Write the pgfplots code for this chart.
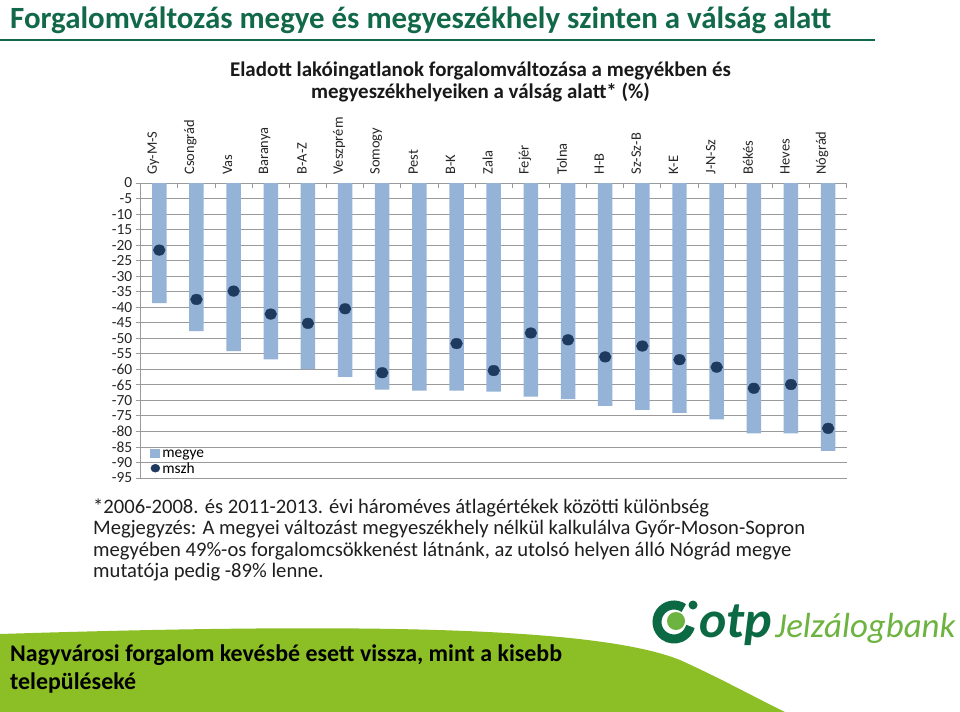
\documentclass[border=0pt]{standalone}
\usepackage{pgfplots}
\pgfplotsset{compat=1.18}
\usepackage{fontspec}
\setmainfont{Carlito}
\definecolor{ttlgreen}{HTML}{11694A}
\definecolor{barblue}{HTML}{95B3D7}
\definecolor{dotnavy}{HTML}{1F3A5F}
\definecolor{gridgrey}{HTML}{9A9A9A}
\definecolor{leafgreen}{HTML}{8CBE25}
\definecolor{otpdark}{HTML}{0B6A43}
\definecolor{otplight}{HTML}{6DB33F}
\begin{document}
\begin{tikzpicture}[x=1bp,y=1bp]
\useasboundingbox (0,0) rectangle (960,-712);
\fill[white] (0,0) rectangle (960,-712);
\coordinate (axSW) at (140.7,-478);
% slide title
\node[anchor=base west, inner sep=0, text=ttlgreen, font=\fontsize{31}{35}\selectfont\bfseries] at (10,-29) {Forgalomváltozás megye és megyeszékhely szinten a válság alatt};
\draw[ttlgreen, line width=2bp] (0,-40) -- (875,-40);
% chart title
\node[anchor=base, inner sep=0, font=\fontsize{21}{24}\selectfont\bfseries, text=black!90] at (480.5,-77) {Eladott lakóingatlanok forgalomváltozása a megyékben és};
\node[anchor=base, inner sep=0, font=\fontsize{21}{24}\selectfont\bfseries, text=black!90] at (480.5,-99) {megyeszékhelyeiken a válság alatt* (\%)};
\begin{axis}[
  at={(axSW)}, anchor=south west,
  width=706bp, height=295bp, scale only axis,
  xmin=-0.5, xmax=18.5, ymin=-95, ymax=0,
  axis x line*=top, axis y line*=left,
  axis line style={gridgrey, line width=0.9bp, -},
  xtick={0,...,18},
  xticklabels={Gy-M-S,Csongrád,Vas,Baranya,B-A-Z,Veszprém,Somogy,Pest,B-K,Zala,Fejér,Tolna,H-B,Sz-Sz-B,K-E,J-N-Sz,Békés,Heves,Nógrád},
  xticklabel style={rotate=90, anchor=west, font=\fontsize{14.5}{16}\selectfont, text=black!85},
  major x tick style={draw=none},
  minor xtick={0.5,1.5,...,17.5,18.5},
  minor x tick style={gridgrey, line width=0.9bp},
  minor tick length=-5bp,
  x tick label style={yshift=6bp},
  ytick={-95,-90,...,0},
  ymajorgrids, grid style={gridgrey, line width=0.9bp},
  y tick style={gridgrey, line width=0.9bp},
  major tick length=5bp,
  tick align=outside,
  yticklabel style={font=\fontsize{15.5}{17}\selectfont, text=black!85},
  /pgf/number format/assume math mode=true,
  legend style={at={(0.012,0.0)}, anchor=south west, draw=none, fill=none,
    font=\fontsize{15.5}{17}\selectfont, row sep=0bp, inner sep=1bp},
  legend cell align=left,
  clip=false,
]
\addplot[ybar, bar width=0.39, bar shift=0pt, fill=barblue, draw=none,
  legend image code/.code={\fill[barblue] (0bp,-4bp) rectangle (10bp,5bp);}] coordinates {
(0,-38.7) (1,-47.7) (2,-54.1) (3,-56.8) (4,-59.9) (5,-62.4) (6,-66.5) (7,-66.9) (8,-66.9) (9,-67.2)
(10,-68.8) (11,-69.6) (12,-71.8) (13,-73.1) (14,-74.0) (15,-76.1) (16,-80.6) (17,-80.6) (18,-86.3)};
\addlegendentry{megye}
\addplot[only marks, mark=*, mark size=5.3bp, mark options={fill=dotnavy, draw=dotnavy, xscale=1.12},
  legend image code/.code={\fill[dotnavy] (5bp,0.5bp) ellipse (4.5bp and 4bp);}] coordinates {
(0,-21.6) (1,-37.5) (2,-34.8) (3,-42.2) (4,-45.2) (5,-40.5) (6,-61.1) (8,-51.7) (9,-60.4)
(10,-48.3) (11,-50.5) (12,-56.0) (13,-52.5) (14,-56.9) (15,-59.3) (16,-66.1) (17,-64.9) (18,-79.0)};
\addlegendentry{mszh}
\end{axis}
% footnotes
\begin{scope}[every node/.style={anchor=base west, inner sep=0, font=\fontsize{20.7}{23}\selectfont, text=black!88}]
\node at (93,-513) {*2006-2008. és 2011-2013. évi hároméves átlagértékek közötti különbség};
\node at (93,-534.5) {Megjegyzés: A megyei változást megyeszékhely nélkül kalkulálva Győr-Moson-Sopron};
\node at (93,-556) {megyében 49\%-os forgalomcsökkenést látnánk, az utolsó helyen álló Nógrád megye};
\node at (93,-577.5) {mutatója pedig -89\% lenne.};
\end{scope}
% bottom green shape
\fill[leafgreen] (0,-634) .. controls (380,-622) and (600,-628) .. (680,-660) .. controls (720,-678) and (760,-700) .. (785,-712) -- (0,-712) -- cycle;
\node[anchor=base west, inner sep=0, font=\fontsize{24}{27}\selectfont\bfseries] at (10,-661) {Nagyvárosi forgalom kevésbé esett vissza, mint a kisebb};
\node[anchor=base west, inner sep=0, font=\fontsize{24}{27}\selectfont\bfseries] at (10,-689) {településeké};
% logo
\draw[otpdark, line width=9bp] (674,-622) ++(55:17) arc[start angle=55, end angle=345, radius=17];
\fill[otplight] (676,-621) circle (9);
\fill[otpdark] (693,-605) circle (4.5);
\node[anchor=base west, inner sep=0, text=otpdark, font=\fontsize{52}{56}\selectfont\bfseries\itshape] at (699,-637) {otp};
\node[anchor=base west, inner sep=0, text=otplight, font=\fontsize{35}{40}\selectfont\itshape] at (775,-637) {Jelzálogbank};
\end{tikzpicture}
\end{document}
